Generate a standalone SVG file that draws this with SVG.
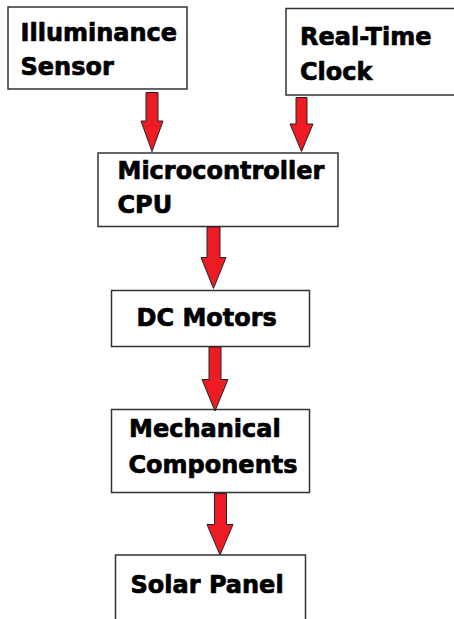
<svg xmlns="http://www.w3.org/2000/svg" width="454" height="619" viewBox="0 0 454 619">
<style>
.box{fill:#fff;stroke:#333;stroke-width:1.5}
.lbl{font-family:"DejaVu Sans",sans-serif;font-weight:bold;font-size:24px;fill:#000;stroke:#000;stroke-width:0.7;stroke-linejoin:round}
.arr{fill:#ED1C24;stroke:#222;stroke-width:1;stroke-linejoin:miter}
</style>
<rect width="454" height="619" fill="#fff"/>
<g id="node-illuminance">
<rect class="box" x="8" y="7" width="179" height="82"/>
<text class="lbl" x="20.5" y="40.5">Illuminance</text>
<text class="lbl" x="20.5" y="75">Sensor</text>
</g>
<g id="node-rtc">
<rect class="box" x="286" y="8.5" width="180" height="86.5"/>
<text class="lbl" x="300" y="44.5">Real-Time</text>
<text class="lbl" x="300" y="79.5">Clock</text>
</g>
<g id="node-mcu">
<rect class="box" x="98" y="153" width="240" height="73.5"/>
<text class="lbl" x="117.5" y="178.5">Microcontroller</text>
<text class="lbl" x="117.5" y="212.5">CPU</text>
</g>
<g id="node-dc">
<rect class="box" x="111.5" y="290.5" width="198" height="56"/>
<text class="lbl" x="136.5" y="326">DC Motors</text>
</g>
<g id="node-mech">
<rect class="box" x="111.5" y="409.5" width="198" height="83"/>
<text class="lbl" x="129" y="436.5">Mechanical</text>
<text class="lbl" x="128.5" y="472.5">Components</text>
</g>
<g id="node-solar">
<rect class="box" x="115.5" y="555" width="190" height="80"/>
<text class="lbl" x="130.5" y="593">Solar Panel</text>
</g>
<g id="connectors">
<polygon class="arr" points="146,92.5 158,92.5 158,121 163,121 152,151.5 141,121 146,121"/>
<polygon class="arr" points="296,97.5 307,97.5 307,124 313,124 301.5,151.5 290,124 296,124"/>
<polygon class="arr" points="207,227 220,227 220,257.5 226,257.5 213.5,288.5 201,257.5 207,257.5"/>
<polygon class="arr" points="209,347 221,347 221,379.5 228,379.5 215,411 202,379.5 209,379.5"/>
<polygon class="arr" points="214.5,493.5 226.5,493.5 226.5,524.5 233,524.5 220,555 207,524.5 214.5,524.5"/>
</g>
</svg>
